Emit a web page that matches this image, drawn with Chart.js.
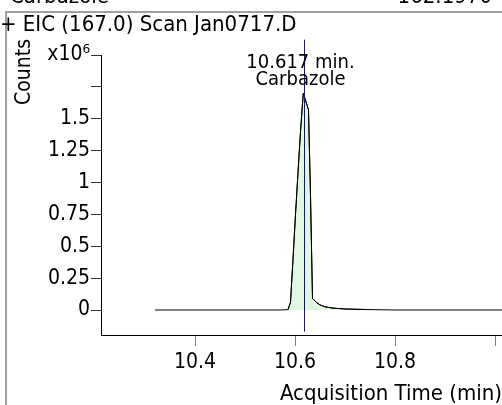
<!DOCTYPE html>
<html>
<head>
<meta charset="utf-8">
<script src="https://cdn.jsdelivr.net/npm/chart.js@4/dist/chart.umd.min.js"></script>
<style>
  html, body { margin:0; padding:0; background:#fff; }
  #wrap { width:502px; height:405px; position:relative; }
</style>
</head>
<body>
<div id="wrap"><canvas id="chartEIC"></canvas></div>
<script>
/*
  EIC chromatogram - Carbazole
*/

// retention time (min) and counts (x10^6)
const traceTime = [
    10.32, 10.40, 10.50, 10.570, 10.586, 10.591, 10.596, 10.601, 10.606, 10.611,
    10.6165, 10.627, 10.631, 10.635, 10.643, 10.650, 10.660, 10.676, 10.700, 10.740,
    10.80, 10.90, 11.02
];
const traceCounts = [
    0.000, 0.000, 0.000, 0.000, 0.003, 0.060, 0.400, 0.750, 1.080, 1.400,
    1.700, 1.570, 0.900, 0.090, 0.060, 0.040, 0.025, 0.015, 0.008, 0.004,
    0.000, 0.000, 0.000
];

// integrated region
const peakStart = 10.586;
const peakEnd = 10.740;

const peakRT = 10.617;
const peakLabel = ["10.617 min.", "Carbazole"];

const yTicks = [0, 0.25, 0.5, 0.75, 1, 1.25, 1.5, 1.75, 2];
const yTickLabels = ["0", "0.25", "0.5", "0.75", "1", "1.25", "1.5", "", "x10\u2076"];
const xTicks = [10.4, 10.6, 10.8, 11.0];
const xTickLabels = ["10.4", "10.6", "10.8", ""];

const headerTitle = "+ EIC (167.0) Scan Jan0717.D";
const compoundName = "Carbazole";
const compoundMass = "162.1970";

const FONT = '"DejaVu Sans Condensed", "DejaVu Sans", sans-serif';

let chartEIC = null;

const tracePoints = traceTime.map((t, i) => ({ x: t, y: traceCounts[i] }));
const peakPoints = tracePoints.filter(p => p.x >= peakStart && p.x <= peakEnd);

/*
  extras: frame, header text, marker line
*/
const extrasPlugin = {
    id: "extras",
    beforeDraw(chart){
        const ctx = chart.ctx;
        ctx.save();
        ctx.strokeStyle = "#a0a0a0";
        ctx.lineWidth = 2;
        ctx.beginPath();
        ctx.moveTo(6, 405);
        ctx.lineTo(6, 12);
        ctx.lineTo(502, 12);
        ctx.stroke();

        ctx.fillStyle = "#000";
        ctx.font = "22px " + FONT;
        ctx.textBaseline = "alphabetic";
        ctx.textAlign = "left";
        ctx.fillText(compoundName, 10, 3);
        ctx.textAlign = "right";
        ctx.fillText(compoundMass, 492, 3);

        ctx.textAlign = "left";
        ctx.fillText(headerTitle, 0, 31);

        ctx.font = "21px " + FONT;
        ctx.translate(30, 72);
        ctx.rotate(-Math.PI / 2);
        ctx.textAlign = "center";
        ctx.fillText("Counts", 0, 0);
        ctx.restore();
    },
    afterDraw(chart){
        const ctx = chart.ctx;
        const xs = chart.scales.x;
        const ys = chart.scales.y;
        const px = Math.round(xs.getPixelForValue(peakRT)) + 0.5;
        ctx.save();
        ctx.strokeStyle = "#1010a0";
        ctx.lineWidth = 1;
        ctx.beginPath();
        ctx.moveTo(px, ys.getPixelForValue(2.12));
        ctx.lineTo(px, ys.getPixelForValue(-0.17));
        ctx.stroke();

        ctx.fillStyle = "#000";
        ctx.font = "20px " + FONT;
        ctx.textAlign = "center";
        ctx.textBaseline = "alphabetic";
        ctx.fillText(peakLabel[0], px - 4, 68);
        ctx.fillText(peakLabel[1], px - 4, 85);
        ctx.restore();
    }
};

function renderChart(){

    const canvas = document.getElementById("chartEIC");
    if(!canvas) return;

    chartEIC = new Chart(canvas, {
        type: "line",
        data: {
            datasets: [
                {
                    label: "EIC",
                    data: tracePoints,
                    borderColor: "#000",
                    borderWidth: 1,
                    pointRadius: 0,
                    tension: 0,
                    fill: false,
                    order: 0
                },
                {
                    label: "Integrated",
                    data: peakPoints,
                    borderColor: "#000",
                    borderWidth: 1,
                    backgroundColor: "#e2f7e2",
                    pointRadius: 0,
                    tension: 0,
                    fill: "origin",
                    order: 1
                }
            ]
        },
        options: {
            responsive: true,
            maintainAspectRatio: false,
            animation: false,
            layout: { padding: { top: 55, right: 0, left: 0, bottom: 0 } },
            plugins: {
                legend: { display: false },
                tooltip: { enabled: false }
            },
            scales: {
                x: {
                    type: "linear",
                    min: 10.212,
                    max: 11.014,
                    afterFit(scale){ scale.height = 70; },
                    afterBuildTicks(scale){
                        scale.ticks = xTicks.map(v => ({ value: v }));
                    },
                    ticks: {
                        autoSkip: false,
                        maxRotation: 0,
                        padding: 4,
                        color: "#000",
                        font: { family: FONT, size: 21 },
                        callback: (v, i) => xTickLabels[i]
                    },
                    grid: {
                        drawOnChartArea: false,
                        drawTicks: true,
                        tickLength: 11,
                        color: "#808080"
                    },
                    border: { display: true, color: "#000", width: 1 },
                    title: {
                        display: true,
                        text: "Acquisition Time (min)",
                        align: "end",
                        color: "#000",
                        font: { family: FONT, size: 22 },
                        padding: { top: 0, bottom: -2 }
                    }
                },
                y: {
                    type: "linear",
                    min: -0.196,
                    max: 2,
                    afterFit(scale){ scale.width = 101; },
                    afterBuildTicks(scale){
                        scale.ticks = yTicks.map(v => ({ value: v }));
                    },
                    ticks: {
                        autoSkip: false,
                        padding: 1,
                        color: "#000",
                        font: { family: FONT, size: 21 },
                        callback: (v, i) => yTickLabels[i]
                    },
                    grid: {
                        drawOnChartArea: false,
                        drawTicks: true,
                        tickLength: 10,
                        color: "#333"
                    },
                    border: { display: true, color: "#000", width: 1 }
                }
            }
        },
        plugins: [extrasPlugin]
    });

}

renderChart();
</script>
</body>
</html>
